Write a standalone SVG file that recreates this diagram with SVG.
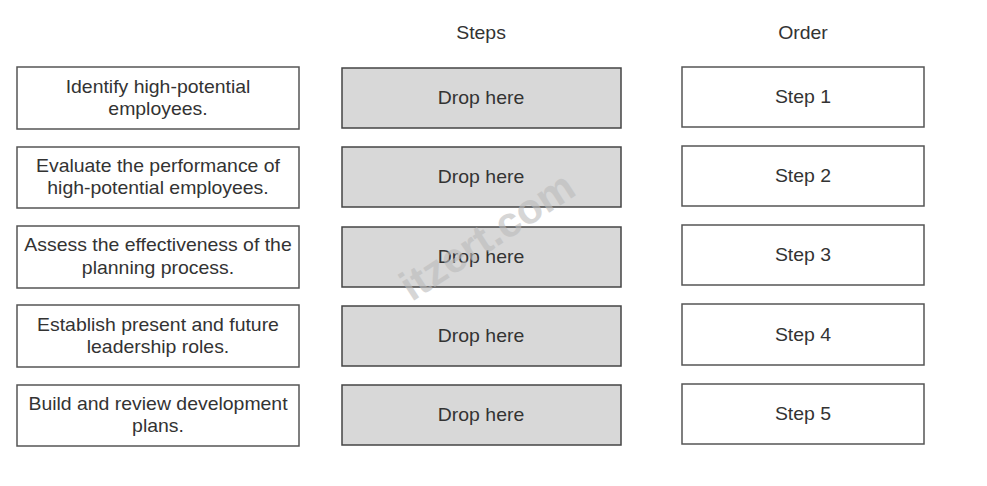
<svg xmlns="http://www.w3.org/2000/svg" width="987" height="486" viewBox="0 0 987 486">
<style>
.bx{fill:#fff;stroke:#555;stroke-width:1.5}
.dz{fill:#d8d8d8;stroke:#444;stroke-width:1.5}
text{font-family:"Liberation Sans",Arial,sans-serif;font-size:18px;fill:#333;text-anchor:middle}
.a{transform:scale(1.08,1)}
.wm{font-size:42px;font-weight:bold;fill:#bbb;opacity:0.6}
</style>
<rect width="987" height="486" fill="#fff"/>
<text class="a" x="445.4" y="39">Steps</text>
<text class="a" x="743.5" y="39">Order</text>
<g id="items">
<g id="item1"><rect class="bx" x="17" y="67" width="282" height="62"/><text class="a" x="146.3" y="93">Identify high-potential</text><text class="a" x="146.3" y="115">employees.</text></g>
<g id="item2"><rect class="bx" x="17" y="147" width="282" height="61"/><text class="a" x="146.3" y="172">Evaluate the performance of</text><text class="a" x="146.3" y="194">high-potential employees.</text></g>
<g id="item3"><rect class="bx" x="17" y="226" width="282" height="62"/><text class="a" x="146.3" y="251">Assess the effectiveness of the</text><text class="a" x="146.3" y="274">planning process.</text></g>
<g id="item4"><rect class="bx" x="17" y="305" width="282" height="62"/><text class="a" x="146.3" y="331">Establish present and future</text><text class="a" x="146.3" y="353">leadership roles.</text></g>
<g id="item5"><rect class="bx" x="17" y="385" width="282" height="61"/><text class="a" x="146.3" y="410">Build and review development</text><text class="a" x="146.3" y="432">plans.</text></g>
</g>
<g id="drops">
<g id="drop1"><rect class="dz" x="342" y="68" width="279" height="60"/><text class="a" x="445.4" y="104">Drop here</text></g>
<g id="drop2"><rect class="dz" x="342" y="147" width="279" height="60"/><text class="a" x="445.4" y="183">Drop here</text></g>
<g id="drop3"><rect class="dz" x="342" y="227" width="279" height="60"/><text class="a" x="445.4" y="263">Drop here</text></g>
<g id="drop4"><rect class="dz" x="342" y="306" width="279" height="60"/><text class="a" x="445.4" y="342">Drop here</text></g>
<g id="drop5"><rect class="dz" x="342" y="385" width="279" height="60"/><text class="a" x="445.4" y="421">Drop here</text></g>
</g>
<g id="steps">
<g id="step1"><rect class="bx" x="682" y="67" width="242" height="60"/><text class="a" x="743.5" y="103">Step 1</text></g>
<g id="step2"><rect class="bx" x="682" y="146" width="242" height="60"/><text class="a" x="743.5" y="182">Step 2</text></g>
<g id="step3"><rect class="bx" x="682" y="225" width="242" height="60"/><text class="a" x="743.5" y="261">Step 3</text></g>
<g id="step4"><rect class="bx" x="682" y="304" width="242" height="61"/><text class="a" x="743.5" y="341">Step 4</text></g>
<g id="step5"><rect class="bx" x="682" y="384" width="242" height="60"/><text class="a" x="743.5" y="420">Step 5</text></g>
</g>
<g id="connectors"/>
<text class="wm" x="495" y="248" transform="rotate(-33 495 248)">itzert.com</text>
</svg>
